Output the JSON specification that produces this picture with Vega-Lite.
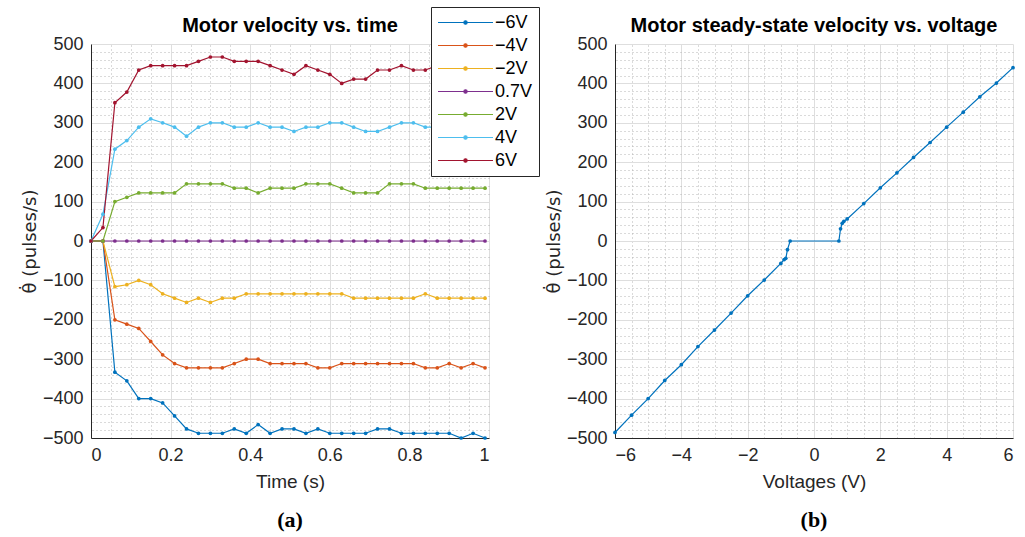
{
  "$schema": "https://vega.github.io/schema/vega-lite/v6.json",
  "background": "white",
  "padding": {"left": 21, "top": 6, "right": 5, "bottom": 5},
  "config": {
    "font": "Liberation Sans",
    "view": {"stroke": null},
    "axis": {"labelFontSize": 18, "titleFontSize": 19, "labelColor": "#262626", "titleColor": "#262626", "titleFontWeight": "normal", "domainColor": "#262626", "domainWidth": 1, "gridColor": "#dedede", "gridWidth": 1, "labelFont": "Liberation Sans", "titleFont": "Liberation Sans", "ticks": false, "labelPadding": 8},
    "title": {"fontSize": 20, "font": "Liberation Sans", "fontWeight": "bold", "color": "black", "frame": "group", "anchor": "middle"},
    "concat": {"spacing": 56}
  },
  "datasets": {
    "ts": [
      {"t":0,"s":"−6V","v":0},{"t":0.03,"s":"−6V","v":0},{"t":0.06,"s":"−6V","v":-333},{"t":0.09,"s":"−6V","v":-355},{"t":0.12,"s":"−6V","v":-400},{"t":0.15,"s":"−6V","v":-400},{"t":0.18,"s":"−6V","v":-411},{"t":0.21,"s":"−6V","v":-444},{"t":0.24,"s":"−6V","v":-477},{"t":0.27,"s":"−6V","v":-488},{"t":0.3,"s":"−6V","v":-488},{"t":0.33,"s":"−6V","v":-488},{"t":0.36,"s":"−6V","v":-477},{"t":0.39,"s":"−6V","v":-488},{"t":0.42,"s":"−6V","v":-466},{"t":0.45,"s":"−6V","v":-488},{"t":0.48,"s":"−6V","v":-477},{"t":0.51,"s":"−6V","v":-477},{"t":0.54,"s":"−6V","v":-488},{"t":0.57,"s":"−6V","v":-477},{"t":0.6,"s":"−6V","v":-488},{"t":0.63,"s":"−6V","v":-488},{"t":0.66,"s":"−6V","v":-488},{"t":0.69,"s":"−6V","v":-488},{"t":0.72,"s":"−6V","v":-477},{"t":0.75,"s":"−6V","v":-477},{"t":0.78,"s":"−6V","v":-488},{"t":0.81,"s":"−6V","v":-488},{"t":0.84,"s":"−6V","v":-488},{"t":0.87,"s":"−6V","v":-488},{"t":0.9,"s":"−6V","v":-488},{"t":0.93,"s":"−6V","v":-500},{"t":0.96,"s":"−6V","v":-488},{"t":0.99,"s":"−6V","v":-500},
      {"t":0,"s":"−4V","v":0},{"t":0.03,"s":"−4V","v":0},{"t":0.06,"s":"−4V","v":-200},{"t":0.09,"s":"−4V","v":-211},{"t":0.12,"s":"−4V","v":-222},{"t":0.15,"s":"−4V","v":-255},{"t":0.18,"s":"−4V","v":-289},{"t":0.21,"s":"−4V","v":-311},{"t":0.24,"s":"−4V","v":-322},{"t":0.27,"s":"−4V","v":-322},{"t":0.3,"s":"−4V","v":-322},{"t":0.33,"s":"−4V","v":-322},{"t":0.36,"s":"−4V","v":-311},{"t":0.39,"s":"−4V","v":-300},{"t":0.42,"s":"−4V","v":-300},{"t":0.45,"s":"−4V","v":-311},{"t":0.48,"s":"−4V","v":-311},{"t":0.51,"s":"−4V","v":-311},{"t":0.54,"s":"−4V","v":-311},{"t":0.57,"s":"−4V","v":-322},{"t":0.6,"s":"−4V","v":-322},{"t":0.63,"s":"−4V","v":-311},{"t":0.66,"s":"−4V","v":-311},{"t":0.69,"s":"−4V","v":-311},{"t":0.72,"s":"−4V","v":-311},{"t":0.75,"s":"−4V","v":-311},{"t":0.78,"s":"−4V","v":-311},{"t":0.81,"s":"−4V","v":-311},{"t":0.84,"s":"−4V","v":-322},{"t":0.87,"s":"−4V","v":-322},{"t":0.9,"s":"−4V","v":-311},{"t":0.93,"s":"−4V","v":-322},{"t":0.96,"s":"−4V","v":-311},{"t":0.99,"s":"−4V","v":-322},
      {"t":0,"s":"−2V","v":0},{"t":0.03,"s":"−2V","v":0},{"t":0.06,"s":"−2V","v":-116},{"t":0.09,"s":"−2V","v":-111},{"t":0.12,"s":"−2V","v":-100},{"t":0.15,"s":"−2V","v":-111},{"t":0.18,"s":"−2V","v":-134},{"t":0.21,"s":"−2V","v":-145},{"t":0.24,"s":"−2V","v":-156},{"t":0.27,"s":"−2V","v":-145},{"t":0.3,"s":"−2V","v":-156},{"t":0.33,"s":"−2V","v":-145},{"t":0.36,"s":"−2V","v":-145},{"t":0.39,"s":"−2V","v":-134},{"t":0.42,"s":"−2V","v":-134},{"t":0.45,"s":"−2V","v":-134},{"t":0.48,"s":"−2V","v":-134},{"t":0.51,"s":"−2V","v":-134},{"t":0.54,"s":"−2V","v":-134},{"t":0.57,"s":"−2V","v":-134},{"t":0.6,"s":"−2V","v":-134},{"t":0.63,"s":"−2V","v":-134},{"t":0.66,"s":"−2V","v":-145},{"t":0.69,"s":"−2V","v":-145},{"t":0.72,"s":"−2V","v":-145},{"t":0.75,"s":"−2V","v":-145},{"t":0.78,"s":"−2V","v":-145},{"t":0.81,"s":"−2V","v":-145},{"t":0.84,"s":"−2V","v":-134},{"t":0.87,"s":"−2V","v":-145},{"t":0.9,"s":"−2V","v":-145},{"t":0.93,"s":"−2V","v":-145},{"t":0.96,"s":"−2V","v":-145},{"t":0.99,"s":"−2V","v":-145},
      {"t":0,"s":"0.7V","v":0},{"t":0.03,"s":"0.7V","v":0},{"t":0.06,"s":"0.7V","v":0},{"t":0.09,"s":"0.7V","v":0},{"t":0.12,"s":"0.7V","v":0},{"t":0.15,"s":"0.7V","v":0},{"t":0.18,"s":"0.7V","v":0},{"t":0.21,"s":"0.7V","v":0},{"t":0.24,"s":"0.7V","v":0},{"t":0.27,"s":"0.7V","v":0},{"t":0.3,"s":"0.7V","v":0},{"t":0.33,"s":"0.7V","v":0},{"t":0.36,"s":"0.7V","v":0},{"t":0.39,"s":"0.7V","v":0},{"t":0.42,"s":"0.7V","v":0},{"t":0.45,"s":"0.7V","v":0},{"t":0.48,"s":"0.7V","v":0},{"t":0.51,"s":"0.7V","v":0},{"t":0.54,"s":"0.7V","v":0},{"t":0.57,"s":"0.7V","v":0},{"t":0.6,"s":"0.7V","v":0},{"t":0.63,"s":"0.7V","v":0},{"t":0.66,"s":"0.7V","v":0},{"t":0.69,"s":"0.7V","v":0},{"t":0.72,"s":"0.7V","v":0},{"t":0.75,"s":"0.7V","v":0},{"t":0.78,"s":"0.7V","v":0},{"t":0.81,"s":"0.7V","v":0},{"t":0.84,"s":"0.7V","v":0},{"t":0.87,"s":"0.7V","v":0},{"t":0.9,"s":"0.7V","v":0},{"t":0.93,"s":"0.7V","v":0},{"t":0.96,"s":"0.7V","v":0},{"t":0.99,"s":"0.7V","v":0},
      {"t":0,"s":"2V","v":0},{"t":0.03,"s":"2V","v":0},{"t":0.06,"s":"2V","v":100},{"t":0.09,"s":"2V","v":111},{"t":0.12,"s":"2V","v":122},{"t":0.15,"s":"2V","v":122},{"t":0.18,"s":"2V","v":122},{"t":0.21,"s":"2V","v":122},{"t":0.24,"s":"2V","v":145},{"t":0.27,"s":"2V","v":145},{"t":0.3,"s":"2V","v":145},{"t":0.33,"s":"2V","v":145},{"t":0.36,"s":"2V","v":134},{"t":0.39,"s":"2V","v":134},{"t":0.42,"s":"2V","v":122},{"t":0.45,"s":"2V","v":134},{"t":0.48,"s":"2V","v":134},{"t":0.51,"s":"2V","v":134},{"t":0.54,"s":"2V","v":145},{"t":0.57,"s":"2V","v":145},{"t":0.6,"s":"2V","v":145},{"t":0.63,"s":"2V","v":134},{"t":0.66,"s":"2V","v":122},{"t":0.69,"s":"2V","v":122},{"t":0.72,"s":"2V","v":122},{"t":0.75,"s":"2V","v":145},{"t":0.78,"s":"2V","v":145},{"t":0.81,"s":"2V","v":145},{"t":0.84,"s":"2V","v":134},{"t":0.87,"s":"2V","v":134},{"t":0.9,"s":"2V","v":134},{"t":0.93,"s":"2V","v":134},{"t":0.96,"s":"2V","v":134},{"t":0.99,"s":"2V","v":134},
      {"t":0,"s":"4V","v":0},{"t":0.03,"s":"4V","v":68},{"t":0.06,"s":"4V","v":233},{"t":0.09,"s":"4V","v":255},{"t":0.12,"s":"4V","v":289},{"t":0.15,"s":"4V","v":310},{"t":0.18,"s":"4V","v":300},{"t":0.21,"s":"4V","v":289},{"t":0.24,"s":"4V","v":266},{"t":0.27,"s":"4V","v":289},{"t":0.3,"s":"4V","v":300},{"t":0.33,"s":"4V","v":300},{"t":0.36,"s":"4V","v":289},{"t":0.39,"s":"4V","v":289},{"t":0.42,"s":"4V","v":300},{"t":0.45,"s":"4V","v":289},{"t":0.48,"s":"4V","v":289},{"t":0.51,"s":"4V","v":278},{"t":0.54,"s":"4V","v":289},{"t":0.57,"s":"4V","v":289},{"t":0.6,"s":"4V","v":300},{"t":0.63,"s":"4V","v":300},{"t":0.66,"s":"4V","v":289},{"t":0.69,"s":"4V","v":278},{"t":0.72,"s":"4V","v":278},{"t":0.75,"s":"4V","v":289},{"t":0.78,"s":"4V","v":300},{"t":0.81,"s":"4V","v":300},{"t":0.84,"s":"4V","v":289},{"t":0.87,"s":"4V","v":289},{"t":0.9,"s":"4V","v":300},{"t":0.93,"s":"4V","v":289},{"t":0.96,"s":"4V","v":289},{"t":0.99,"s":"4V","v":300},
      {"t":0,"s":"6V","v":0},{"t":0.03,"s":"6V","v":34},{"t":0.06,"s":"6V","v":351},{"t":0.09,"s":"6V","v":378},{"t":0.12,"s":"6V","v":434},{"t":0.15,"s":"6V","v":445},{"t":0.18,"s":"6V","v":445},{"t":0.21,"s":"6V","v":445},{"t":0.24,"s":"6V","v":445},{"t":0.27,"s":"6V","v":456},{"t":0.3,"s":"6V","v":467},{"t":0.33,"s":"6V","v":467},{"t":0.36,"s":"6V","v":456},{"t":0.39,"s":"6V","v":456},{"t":0.42,"s":"6V","v":456},{"t":0.45,"s":"6V","v":445},{"t":0.48,"s":"6V","v":434},{"t":0.51,"s":"6V","v":423},{"t":0.54,"s":"6V","v":445},{"t":0.57,"s":"6V","v":434},{"t":0.6,"s":"6V","v":423},{"t":0.63,"s":"6V","v":400},{"t":0.66,"s":"6V","v":411},{"t":0.69,"s":"6V","v":411},{"t":0.72,"s":"6V","v":434},{"t":0.75,"s":"6V","v":434},{"t":0.78,"s":"6V","v":445},{"t":0.81,"s":"6V","v":434},{"t":0.84,"s":"6V","v":434},{"t":0.87,"s":"6V","v":445},{"t":0.9,"s":"6V","v":434},{"t":0.93,"s":"6V","v":445},{"t":0.96,"s":"6V","v":434},{"t":0.99,"s":"6V","v":445}
    ],
    "ss": [
      {"V":-6,"v":-486},{"V":-5.5,"v":-442},{"V":-5,"v":-400},{"V":-4.5,"v":-354},{"V":-4,"v":-314},{"V":-3.5,"v":-268},{"V":-3,"v":-226},{"V":-2.5,"v":-183},{"V":-2,"v":-139},{"V":-1.5,"v":-99},{"V":-1,"v":-57},{"V":-0.9,"v":-47},{"V":-0.85,"v":-44},{"V":-0.8,"v":-22},{"V":-0.72,"v":0},{"V":0.75,"v":0},{"V":0.8,"v":31},{"V":0.85,"v":45},{"V":0.9,"v":50},{"V":1,"v":56},{"V":1.5,"v":95},{"V":2,"v":135},{"V":2.5,"v":173},{"V":3,"v":212},{"V":3.5,"v":250},{"V":4,"v":289},{"V":4.5,"v":327},{"V":5,"v":366},{"V":5.5,"v":401},{"V":6,"v":440}
    ]
  },
  "hconcat": [
    {
      "title": {"text": "(a)", "orient": "bottom", "anchor": "middle", "frame": "group", "dx": 199, "font": "Liberation Serif", "fontSize": 22, "fontWeight": "bold", "color": "black", "offset": 19},
      "vconcat": [
        {
          "width": 398,
          "height": 394,
          "title": {"text": "Motor velocity vs. time", "offset": -1},
          "data": {"name": "ts"},
          "layer": [
            {
              "mark": {"type": "line", "opacity": 0},
              "encoding": {
                "x": {"field": "t", "type": "quantitative", "scale": {"domain": [0, 1], "nice": false, "zero": false},
                  "axis": {"orient": "top", "values": [0.05,0.1,0.15,0.25,0.3,0.35,0.45,0.5,0.55,0.65,0.7,0.75,0.85,0.9,0.95], "grid": true, "gridDash": [1, 3], "gridColor": "#b4b4b4", "labels": false, "ticks": false, "domain": false, "title": null}},
                "y": {"field": "v", "type": "quantitative", "scale": {"domain": [-500, 500], "nice": false},
                  "axis": {"orient": "right", "values": [-480,-460,-440,-420,-380,-360,-340,-320,-280,-260,-240,-220,-180,-160,-140,-120,-80,-60,-40,-20,20,40,60,80,120,140,160,180,220,240,260,280,320,340,360,380,420,440,460,480], "grid": true, "gridDash": [1, 3], "gridColor": "#b4b4b4", "labels": false, "ticks": false, "domain": false, "title": null}},
                "detail": {"field": "s"}
              }
            },
            {
              "mark": {"type": "line", "strokeWidth": 1.2, "point": {"filled": true, "size": 14}},
              "encoding": {
                "x": {"field": "t", "type": "quantitative", "scale": {"domain": [0, 1], "nice": false, "zero": false},
                  "axis": {"title": "Time (s)", "values": [0, 0.2, 0.4, 0.6, 0.8, 1], "format": ".1~f", "grid": true, "titlePadding": 8}},
                "y": {"field": "v", "type": "quantitative", "scale": {"domain": [-500, 500], "nice": false},
                  "axis": {"title": "θ̇ (pulses/s)", "titleFont": "DejaVu Sans", "titleFontSize": 18, "values": [-500,-400,-300,-200,-100,0,100,200,300,400,500], "format": "d", "grid": true, "titlePadding": 3}},
                "color": {"field": "s", "type": "nominal",
                  "scale": {"domain": ["−6V","−4V","−2V","0.7V","2V","4V","6V"], "range": ["#0072BD","#D95319","#EDB120","#7E2F8E","#77AC30","#4DBEEE","#A2142F"]},
                  "legend": {"orient": "none", "legendX": 340, "legendY": -37, "title": null, "strokeColor": "#262626", "fillColor": "white", "padding": 6, "symbolType": "M-1,0H1M-0.06,0A0.06,0.06,0,1,0,0.06,0A0.06,0.06,0,1,0,-0.06,0", "symbolSize": 3025, "symbolStrokeWidth": 1.2, "labelFontSize": 18, "labelColor": "black", "labelOffset": 1, "rowPadding": 4, "clipHeight": 19}}
              }
            }
          ],
          "resolve": {"axis": {"x": "independent", "y": "independent"}}
        }
      ]
    },
    {
      "title": {"text": "(b)", "orient": "bottom", "anchor": "middle", "frame": "group", "dx": 199, "font": "Liberation Serif", "fontSize": 22, "fontWeight": "bold", "color": "black", "offset": 19},
      "vconcat": [
        {
          "width": 398,
          "height": 394,
          "title": {"text": "Motor steady-state velocity vs. voltage", "offset": -1},
          "data": {"name": "ss"},
          "layer": [
            {
              "mark": {"type": "line", "opacity": 0},
              "encoding": {
                "x": {"field": "V", "type": "quantitative", "scale": {"domain": [-6, 6], "nice": false},
                  "axis": {"orient": "top", "values": [-5.5,-5,-4.5,-3.5,-3,-2.5,-1.5,-1,-0.5,0.5,1,1.5,2.5,3,3.5,4.5,5,5.5], "grid": true, "gridDash": [1, 3], "gridColor": "#b4b4b4", "labels": false, "ticks": false, "domain": false, "title": null}},
                "y": {"field": "v", "type": "quantitative", "scale": {"domain": [-500, 500], "nice": false},
                  "axis": {"orient": "right", "values": [-480,-460,-440,-420,-380,-360,-340,-320,-280,-260,-240,-220,-180,-160,-140,-120,-80,-60,-40,-20,20,40,60,80,120,140,160,180,220,240,260,280,320,340,360,380,420,440,460,480], "grid": true, "gridDash": [1, 3], "gridColor": "#b4b4b4", "labels": false, "ticks": false, "domain": false, "title": null}}
              }
            },
            {
              "mark": {"type": "line", "strokeWidth": 1.2, "color": "#0072BD", "point": {"filled": true, "size": 14, "color": "#0072BD"}},
              "encoding": {
                "x": {"field": "V", "type": "quantitative", "scale": {"domain": [-6, 6], "nice": false},
                  "axis": {"title": "Voltages (V)", "values": [-6,-4,-2,0,2,4,6], "format": "d", "grid": true, "titlePadding": 8}},
                "y": {"field": "v", "type": "quantitative", "scale": {"domain": [-500, 500], "nice": false},
                  "axis": {"title": "θ̇ (pulses/s)", "titleFont": "DejaVu Sans", "titleFontSize": 18, "values": [-500,-400,-300,-200,-100,0,100,200,300,400,500], "format": "d", "grid": true, "titlePadding": 3}}
              }
            }
          ],
          "resolve": {"axis": {"x": "independent", "y": "independent"}}
        }
      ]
    }
  ]
}
